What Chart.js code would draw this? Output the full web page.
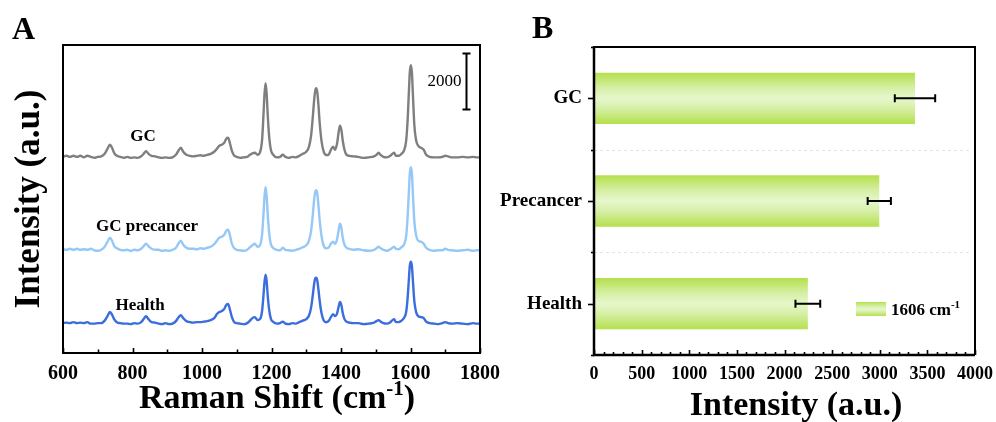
<!DOCTYPE html>
<html><head><meta charset="utf-8">
<script src="https://cdn.jsdelivr.net/npm/chart.js@4.4.1/dist/chart.umd.min.js"></script>
<style>
html,body{margin:0;padding:0;background:#fff;}
#wrap{position:relative;width:996px;height:422px;overflow:hidden;background:#fff;}
canvas{position:absolute;top:0;}
#ca{left:0;} #cb{left:500px;}
</style></head><body>
<div id="wrap"><canvas id="ca" width="500" height="422"></canvas><canvas id="cb" width="496" height="422"></canvas></div>
<script>
// ---------- Panel A data: Raman spectra ----------
const wavenumbers = [
 600,610,620,630,640,650,660,670,680,690,
 700,710,720,728,735,741,747,755,765,775,
 785,795,805,815,825,832,839,846,855,865,
 875,885,895,905,915,925,932,939,946,955,
 965,975,985,995,1005,1015,1025,1035,1043,1050,
 1057,1064,1070,1075,1080,1086,1093,1100,1110,1120,
 1130,1138,1145,1152,1160,1167,1173,1177,1180,1183,
 1186,1189,1193,1198,1205,1215,1225,1232,1240,1250,
 1260,1270,1280,1290,1300,1308,1314,1319,1323,1326,
 1329,1332,1335,1339,1344,1350,1357,1364,1371,1377,
 1383,1389,1393,1397,1401,1405,1410,1416,1424,1435,
 1450,1465,1480,1495,1502,1508,1514,1522,1532,1542,
 1548,1553,1558,1566,1574,1581,1587,1591,1595,1598,
 1601,1604,1607,1611,1616,1622,1630,1638,1645,1655,
 1668,1680,1692,1700,1708,1720,1735,1750,1765,1780,
 1790,1800];
const gcValues = [
 36,72,36,72,36,72,18,72,36,0,
 36,54,144,324,468,360,180,72,36,0,
 36,0,18,0,54,144,234,144,72,54,
 18,0,18,0,18,108,252,360,216,108,
 72,54,72,90,72,108,144,216,324,432,
 468,540,684,720,540,252,72,36,0,18,
 36,108,162,180,108,200,650,1560,2300,2664,
 2300,1560,800,300,110,18,36,108,36,0,
 36,18,72,144,216,400,800,1480,2100,2400,
 2484,2320,1900,1200,600,230,100,108,288,396,
 288,540,900,1152,1000,620,290,108,72,54,
 36,0,18,54,108,180,108,36,18,72,
 144,180,72,72,144,252,560,1180,2250,3050,
 3312,3050,2250,1180,640,432,360,288,108,36,
 18,18,36,72,54,18,18,36,18,36,
 18,18];
const precancerValues = [
 54,36,72,36,72,36,54,36,72,18,
 0,36,144,324,468,360,180,90,36,18,
 36,0,36,18,72,162,252,162,72,36,
 36,0,18,0,36,108,252,360,216,108,
 72,72,54,90,72,108,144,234,360,468,
 504,576,720,756,576,252,90,36,18,0,
 36,126,198,252,144,200,600,1330,1960,2268,
 1960,1330,680,250,100,36,18,108,36,18,
 0,36,72,126,198,360,720,1300,1860,2110,
 2160,2020,1640,1040,520,190,90,108,252,324,
 252,432,720,972,828,468,216,108,72,36,
 54,18,0,36,90,144,90,36,0,54,
 108,144,72,54,126,216,480,1060,2020,2760,
 2988,2760,2020,1060,560,360,324,252,108,36,
 0,18,18,72,36,18,0,18,36,0,
 18,18];
const healthValues = [
 36,54,36,72,36,54,36,72,18,18,
 36,36,126,288,432,342,180,72,36,18,
 18,0,36,18,72,180,288,180,72,54,
 18,0,36,0,18,108,234,324,216,108,
 72,54,72,72,90,108,144,216,360,432,
 468,540,684,720,540,252,72,36,18,0,
 36,126,216,252,144,180,480,1040,1520,1764,
 1540,1040,540,200,80,18,36,90,18,0,
 36,18,72,126,180,310,600,1050,1460,1640,
 1656,1540,1250,800,390,140,70,108,252,360,
 288,396,612,792,684,396,180,90,54,36,
 36,0,18,54,108,144,90,36,18,72,
 144,180,72,72,126,216,400,820,1540,2080,
 2232,2080,1540,820,440,288,252,216,90,36,
 18,0,36,72,36,18,36,18,0,36,
 18,18];
const spectrumNames = ['GC', 'GC precancer', 'Health'];
const spectrumOffsets = [6970, 3650, 1030];
const spectrumLabelAnchors = [[830, 7713], [842, 4500], [822, 1680]];
const ramanTicks = [600, 800, 1000, 1200, 1400, 1600, 1800];
const ramanMinorStep = 100;
const scaleBarValue = 2000;
const scaleBarAnchor = [1761, 8700];

// ---------- Panel B data: 1606 cm-1 band intensity ----------
const groups = ['GC', 'Precancer', 'Health'];
const intensity1606 = [3370, 2995, 2245];
const intensityErr = [212, 122, 130];
const intensityTicks = [0, 500, 1000, 1500, 2000, 2500, 3000, 3500, 4000];
const intensityMinorStep = 100;

if (gcValues.length !== wavenumbers.length || precancerValues.length !== wavenumbers.length || healthValues.length !== wavenumbers.length) {
  throw new Error('length mismatch ' + wavenumbers.length + ' ' + gcValues.length + ' ' + precancerValues.length + ' ' + healthValues.length);
}

const SERIF = "'Liberation Serif','Times New Roman',Times,serif";
const COLORS = ['#7f7f7f', '#95c8f6', '#3a6edc'];

function font(size, bold) { return (bold ? 'bold ' : '') + size + 'px ' + SERIF; }

function drawSup(ctx, main, sup, tail, cx, baseline, size, supSize, rise) {
  ctx.font = font(size, true);
  const w1 = ctx.measureText(main).width;
  const w3 = ctx.measureText(tail).width;
  ctx.font = font(supSize, true);
  const w2 = ctx.measureText(sup).width;
  let x = cx === null ? 0 : cx - (w1 + w2 + w3) / 2;
  return { w: w1 + w2 + w3, draw(xStart) {
    let xx = xStart !== undefined ? xStart : x;
    ctx.textAlign = 'left'; ctx.textBaseline = 'alphabetic'; ctx.fillStyle = '#000';
    ctx.font = font(size, true); ctx.fillText(main, xx, baseline); xx += w1;
    ctx.font = font(supSize, true); ctx.fillText(sup, xx, baseline - rise); xx += w2;
    ctx.font = font(size, true); ctx.fillText(tail, xx, baseline);
  }};
}

// ---------- Panel A ----------
const decoA = {
  id: 'decoA',
  afterDraw(chart) {
    const ctx = chart.ctx, a = chart.chartArea, xs = chart.scales.x, ys = chart.scales.y;
    ctx.save();
    ctx.strokeStyle = '#000'; ctx.lineWidth = 2;
    ctx.strokeRect(a.left, a.top, a.right - a.left, a.bottom - a.top);
    ctx.lineWidth = 1.6;
    for (let v = xs.min; v <= xs.max; v += ramanMinorStep) {
      const px = Math.round(xs.getPixelForValue(v)) + 0.5;
      const len = ramanTicks.includes(v) ? 5 : 3.5;
      ctx.beginPath(); ctx.moveTo(px, a.bottom); ctx.lineTo(px, a.bottom - len); ctx.stroke();
    }
    ctx.fillStyle = '#000'; ctx.font = font(17, true);
    ctx.textAlign = 'center'; ctx.textBaseline = 'middle';
    spectrumNames.forEach((n, k) => {
      ctx.fillText(n, xs.getPixelForValue(spectrumLabelAnchors[k][0]), ys.getPixelForValue(spectrumLabelAnchors[k][1]));
    });
    const bx = Math.round(xs.getPixelForValue(scaleBarAnchor[0])) + 0.5;
    const by0 = ys.getPixelForValue(scaleBarAnchor[1]);
    const by1 = ys.getPixelForValue(scaleBarAnchor[1] + scaleBarValue);
    ctx.lineWidth = 2;
    ctx.beginPath();
    ctx.moveTo(bx, by0); ctx.lineTo(bx, by1);
    ctx.moveTo(bx - 4, by0); ctx.lineTo(bx + 4, by0);
    ctx.moveTo(bx - 4, by1); ctx.lineTo(bx + 4, by1);
    ctx.stroke();
    ctx.font = font(17, false); ctx.textAlign = 'right'; ctx.textBaseline = 'middle';
    ctx.fillText(String(scaleBarValue), bx - 5, (by0 + by1) / 2);
    ctx.font = font(32, true); ctx.textAlign = 'left'; ctx.textBaseline = 'alphabetic';
    ctx.fillText('A', 12, 39);
    ctx.save();
    ctx.translate(30, (a.top + a.bottom) / 2);
    ctx.rotate(-Math.PI / 2);
    ctx.font = font(35, true); ctx.textAlign = 'center'; ctx.textBaseline = 'middle';
    ctx.fillText('Intensity (a.u.)', 0, 0);
    ctx.restore();
    const t = drawSup(ctx, 'Raman Shift (cm', '-1', ')', 277, 408, 34, 21, 13);
    t.draw();
    ctx.restore();
  }
};

new Chart(document.getElementById('ca'), {
  type: 'line',
  data: {
    datasets: [gcValues, precancerValues, healthValues].map((vals, k) => ({
      label: spectrumNames[k],
      data: wavenumbers.map((w, i) => ({ x: w, y: vals[i] + spectrumOffsets[k] })),
      borderColor: COLORS[k],
      borderWidth: 2.4,
      pointRadius: 0,
      fill: false,
      cubicInterpolationMode: 'monotone'
    }))
  },
  options: {
    responsive: false, animation: false, events: [],
    layout: { padding: { left: 63, top: 45, right: 20, bottom: 0 } },
    plugins: { legend: { display: false }, tooltip: { enabled: false } },
    scales: {
      x: {
        type: 'linear', min: 600, max: 1800,
        afterBuildTicks(s) { s.ticks = ramanTicks.map(v => ({ value: v })); },
        ticks: { font: { family: SERIF, size: 20, weight: 'bold' }, color: '#000', padding: 9, maxRotation: 0, autoSkip: false, callback: v => String(v) },
        grid: { display: false, drawTicks: false },
        border: { display: false },
        afterFit(s) { s.height = 69; s.paddingLeft = 0; s.paddingRight = 0; }
      },
      y: { display: false, min: 0, max: 11000 }
    }
  },
  plugins: [decoA]
});

// ---------- Panel B ----------
function barGradient(ctx2d, y0, y1) {
  const g = ctx2d.createLinearGradient(0, y0, 0, y1);
  g.addColorStop(0, '#b4e04c');
  g.addColorStop(0.3, '#d6efa6');
  g.addColorStop(0.5, '#e6f7cc');
  g.addColorStop(0.7, '#d6efa6');
  g.addColorStop(1, '#b4e04c');
  return g;
}

const decoB = {
  id: 'decoB',
  beforeDatasetsDraw(chart) {
    const ctx = chart.ctx, a = chart.chartArea, ys = chart.scales.y;
    ctx.save();
    ctx.strokeStyle = '#e4e4e4'; ctx.lineWidth = 1; ctx.setLineDash([3, 3]);
    for (let i = 0; i < groups.length - 1; i++) {
      const py = Math.round(ys.getPixelForValue(i + 0.5)) + 0.5;
      ctx.beginPath(); ctx.moveTo(a.left, py); ctx.lineTo(a.right - 4, py); ctx.stroke();
    }
    ctx.restore();
  },
  afterDraw(chart) {
    const ctx = chart.ctx, a = chart.chartArea, xs = chart.scales.x, ys = chart.scales.y;
    ctx.save();
    ctx.strokeStyle = '#000';
    ctx.lineWidth = 2;
    intensity1606.forEach((v, i) => {
      const py = ys.getPixelForValue(i);
      const x0 = xs.getPixelForValue(v - intensityErr[i]);
      const x1 = xs.getPixelForValue(v + intensityErr[i]);
      ctx.beginPath();
      ctx.moveTo(x0, py); ctx.lineTo(x1, py);
      ctx.moveTo(x0, py - 4); ctx.lineTo(x0, py + 4);
      ctx.moveTo(x1, py - 4); ctx.lineTo(x1, py + 4);
      ctx.stroke();
    });
    ctx.lineWidth = 2;
    ctx.beginPath();
    ctx.moveTo(a.left, a.top); ctx.lineTo(a.right, a.top); ctx.lineTo(a.right, a.bottom);
    ctx.stroke();
    ctx.lineWidth = 2.5;
    ctx.beginPath();
    ctx.moveTo(a.left, a.top - 1); ctx.lineTo(a.left, a.bottom); ctx.lineTo(a.right, a.bottom);
    ctx.stroke();
    ctx.lineWidth = 1.6;
    for (let v = xs.min; v <= xs.max; v += intensityMinorStep) {
      const px = Math.round(xs.getPixelForValue(v)) + 0.5;
      const len = intensityTicks.includes(v) ? 5 : 3;
      ctx.beginPath(); ctx.moveTo(px, a.bottom); ctx.lineTo(px, a.bottom - len); ctx.stroke();
    }
    for (let i = 0; i < groups.length; i++) {
      const py = Math.round(ys.getPixelForValue(i)) + 0.5;
      ctx.beginPath(); ctx.moveTo(a.left, py); ctx.lineTo(a.left - 6, py); ctx.stroke();
    }
    for (let i = -0.5; i <= groups.length - 0.5; i += 1) {
      const py = Math.round(ys.getPixelForValue(i)) + 0.5;
      ctx.beginPath(); ctx.moveTo(a.left, py); ctx.lineTo(a.left - 3, py); ctx.stroke();
    }
    const lx = 356, ly = 302, lw = 30, lh = 14;
    ctx.fillStyle = barGradient(ctx, ly, ly + lh);
    ctx.fillRect(lx, ly, lw, lh);
    const lg = drawSup(ctx, '1606 cm', '-1', '', null, 315, 17, 11, 7);
    lg.draw(lx + lw + 5);
    ctx.fillStyle = '#000';
    ctx.font = font(32, true); ctx.textAlign = 'left'; ctx.textBaseline = 'alphabetic';
    ctx.fillText('B', 32, 38);
    ctx.font = font(34, true); ctx.textAlign = 'center';
    ctx.fillText('Intensity (a.u.)', 296, 415);
    ctx.restore();
  }
};

new Chart(document.getElementById('cb'), {
  type: 'bar',
  data: {
    labels: groups,
    datasets: [{
      label: '1606 cm-1',
      data: intensity1606,
      barPercentage: 0.5,
      categoryPercentage: 1,
      borderWidth: 0,
      backgroundColor(c) {
        const chart = c.chart, a = chart.chartArea;
        if (!a) return '#cdeb8c';
        const ys = chart.scales.y;
        const yc = ys.getPixelForValue(c.dataIndex);
        const half = (a.bottom - a.top) / groups.length * 0.25;
        return barGradient(chart.ctx, yc - half, yc + half);
      }
    }]
  },
  options: {
    indexAxis: 'y',
    responsive: false, animation: false, events: [],
    layout: { padding: { left: 0, top: 47, right: 21, bottom: 0 } },
    plugins: { legend: { display: false }, tooltip: { enabled: false } },
    scales: {
      x: {
        type: 'linear', min: 0, max: 4000,
        afterBuildTicks(s) { s.ticks = intensityTicks.map(v => ({ value: v })); },
        ticks: { font: { family: SERIF, size: 18, weight: 'bold' }, color: '#000', padding: 9, maxRotation: 0, autoSkip: false, callback: v => String(v) },
        grid: { display: false, drawTicks: false },
        border: { display: false },
        afterFit(s) { s.height = 67; s.paddingLeft = 0; s.paddingRight = 0; }
      },
      y: {
        type: 'category',
        ticks: { font: { family: SERIF, size: 19, weight: 'bold' }, color: '#000', padding: 12 },
        grid: { display: false, drawTicks: false },
        border: { display: false },
        afterFit(s) { s.width = 94; s.paddingTop = 0; s.paddingBottom = 0; }
      }
    }
  },
  plugins: [decoB]
});
</script>
</body></html>
